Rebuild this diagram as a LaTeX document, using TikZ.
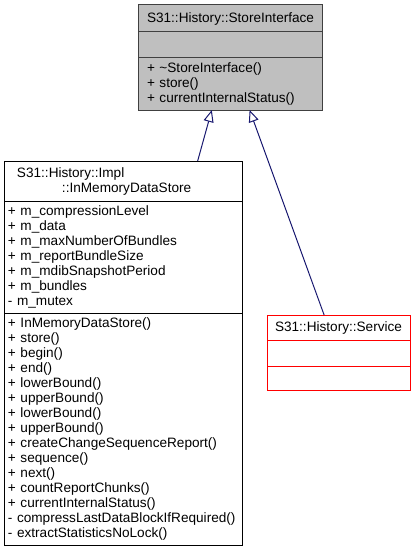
\documentclass[tikz,border=0pt]{standalone}
\usepackage{fontspec}
\setmainfont{Liberation Sans}
\usetikzlibrary{arrows.meta,positioning}
\definecolor{boxgray}{HTML}{BFBFBF}
\definecolor{edgenavy}{HTML}{191970}
\definecolor{edgedark}{HTML}{404040}

\begin{document}
\begin{tikzpicture}[x=1pt,y=-1pt,
  cl/.style={draw=black,line width=1pt,outer sep=0pt,inner xsep=4pt,inner ysep=0pt,align=left,font=\fontsize{13.6}{15}\selectfont},
  ttl/.style={align=center,anchor=north},
  sv/.style={cl,draw=red,text width=135pt},
  gr/.style={cl,draw=edgedark,fill=boxgray,inner xsep=9pt,text width=166pt},
  ar/.style={-{Triangle[open,length=12pt,width=10pt]},draw=edgenavy,line width=1pt}]
\useasboundingbox (0,0) rectangle (416,551);
% base class
\node[gr,ttl,minimum height=27pt] (si) at (230,5) {S31::History::StoreInterface};
\node[gr,minimum height=26pt,below=0pt of si] (si-a) {};
\node[gr,minimum height=52pt,below=0pt of si-a] (si-m) {+ \textasciitilde StoreInterface()\\+ store()\\+ currentInternalStatus()};
% in-memory store
\node[cl,anchor=north,text width=230pt,minimum height=40pt] (ims) at (123,161) {\hspace*{9pt}S31::History::Impl\\\hspace*{54pt}::InMemoryDataStore};
\node[cl,text width=230pt,minimum height=112pt,below=0pt of ims] (ims-a) {+ m\_compressionLevel\\+ m\_data\\+ m\_maxNumberOfBundles\\+ m\_reportBundleSize\\+ m\_mdibSnapshotPeriod\\+ m\_bundles\\- m\_mutex};
\node[cl,text width=230pt,minimum height=232pt,below=0pt of ims-a] (ims-m) {+ InMemoryDataStore()\\+ store()\\+ begin()\\+ end()\\+ lowerBound()\\+ upperBound()\\+ lowerBound()\\+ upperBound()\\+ createChangeSequenceReport()\\+ sequence()\\+ next()\\+ countReportChunks()\\+ currentInternalStatus()\\- compressLastDataBlockIfRequired()\\- extractStatisticsNoLock()};
% service
\node[sv,ttl,minimum height=25pt] (svc) at (338.5,315) {S31::History::Service};
\node[sv,minimum height=26pt,below=0pt of svc] (svc-a) {};
\node[sv,minimum height=24pt,below=0pt of svc-a] (svc-m) {};
\draw[ar] (ims.15.7) -- (si-m.235.3);
\draw[ar] (svc.139) -- (si-m.307.6);
\end{tikzpicture}
\end{document}
